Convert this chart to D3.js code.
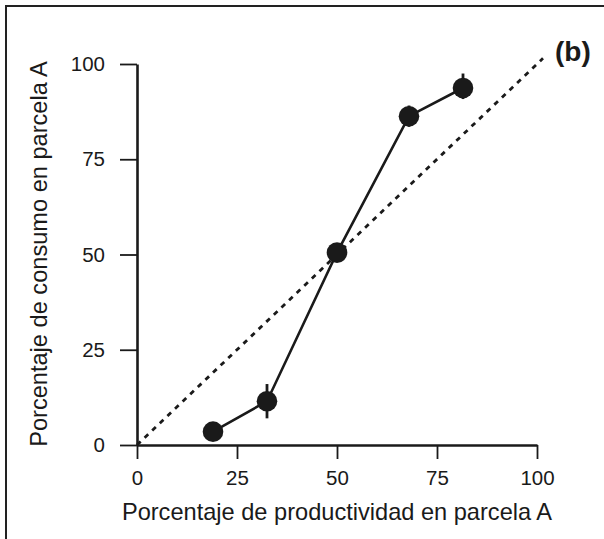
<!DOCTYPE html>
<html><head><meta charset="utf-8">
<script src="https://cdn.jsdelivr.net/npm/d3@7"></script>
<style>body{margin:0;background:#fff}svg{display:block}text{font-family:"Liberation Sans",Arial,sans-serif;fill:#1a1a1a}</style>
</head><body>
<script>
const xValues = [19, 32.5, 50, 68, 81.5];
const yValues = [3.5, 11.5, 50.5, 86.3, 93.7];
const errUp = [1.5, 4.5, 1.5, 2.8, 3.8];
const errDown = [1.5, 4.5, 1.5, 2.8, 2.9];
const tickValues = [0, 25, 50, 75, 100];
const xTitle = "Porcentaje de productividad en parcela A";
const yTitle = "Porcentaje de consumo en parcela A";
const panelLabel = "(b)";
const identityLine = [0, 101.5];

const W = 604, H = 539;
const svg = d3.select("body").append("svg").attr("width", W).attr("height", H);
const x = d3.scaleLinear().domain([0, 100]).range([137, 537]);
const y = d3.scaleLinear().domain([0, 100]).range([445, 64]);
const ink = "#1a1a1a";

// frame
svg.append("path").attr("d", `M6,${H} V6 H${W}`).attr("fill", "none").attr("stroke", "#222").attr("stroke-width", 2);

// axes
const gx = svg.append("g").attr("transform", `translate(0,${y(0)})`)
  .call(d3.axisBottom(x).tickValues(tickValues).tickSize(14).tickSizeOuter(0).tickPadding(11));
const gy = svg.append("g").attr("transform", `translate(${x(0)},0)`)
  .call(d3.axisLeft(y).tickValues(tickValues).tickSize(17).tickSizeOuter(0).tickPadding(15));
[gx, gy].forEach(g => {
  g.select(".domain").attr("stroke", ink).attr("stroke-width", 2.6);
  g.selectAll(".tick line").attr("stroke", ink).attr("stroke-width", 1.8);
  g.selectAll(".tick text").attr("font-size", 20.5).attr("font-family", "Liberation Sans, Arial, sans-serif").attr("fill", ink);
});

// identity dashed line
svg.append("line")
  .attr("x1", x(identityLine[0])).attr("y1", y(identityLine[0]))
  .attr("x2", x(identityLine[1])).attr("y2", y(identityLine[1]))
  .attr("stroke", ink).attr("stroke-width", 2.8).attr("stroke-dasharray", "5,5.5");

const data = xValues.map((v, i) => ({x: v, y: yValues[i], up: errUp[i], dn: errDown[i]}));

// error bars
svg.selectAll(".err").data(data).enter().append("line")
  .attr("x1", d => x(d.x)).attr("x2", d => x(d.x))
  .attr("y1", d => y(d.y + d.up)).attr("y2", d => y(d.y - d.dn))
  .attr("stroke", ink).attr("stroke-width", 2.8);

// connecting line
svg.append("path").datum(data)
  .attr("d", d3.line().x(d => x(d.x)).y(d => y(d.y)))
  .attr("fill", "none").attr("stroke", ink).attr("stroke-width", 2.6);

// points
svg.selectAll(".pt").data(data).enter().append("circle")
  .attr("cx", d => x(d.x)).attr("cy", d => y(d.y)).attr("r", 10.3).attr("fill", ink);

// titles
svg.append("text").attr("x", 337).attr("y", 520).attr("text-anchor", "middle")
  .attr("font-size", 23.6).text(xTitle);
svg.append("text").attr("transform", "translate(47,254) rotate(-90)").attr("text-anchor", "middle")
  .attr("font-size", 23.6).text(yTitle);
svg.append("text").attr("x", 555).attr("y", 61).attr("font-size", 28).attr("font-weight", "bold").text(panelLabel);
</script>
</body></html>
